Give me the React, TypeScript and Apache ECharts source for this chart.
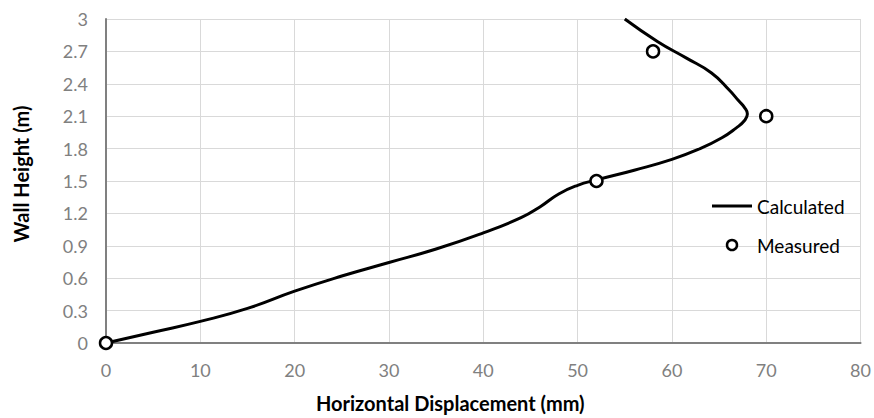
import React, { useEffect, useRef } from "react";
import * as echarts from "echarts";

const calcX = [0, 5, 10, 15, 20, 25, 30, 35, 40, 44, 46, 48, 50, 52, 56, 60, 63, 65.3, 66.8, 67.7, 68, 67.7, 67.1, 66.1, 64.2, 61.5, 58.5, 55];
const calcY = [0, 0.1, 0.2, 0.32, 0.48, 0.62, 0.745, 0.87, 1.02, 1.16, 1.26, 1.38, 1.46, 1.51, 1.6, 1.7, 1.8, 1.9, 1.99, 2.06, 2.12, 2.18, 2.24, 2.34, 2.5, 2.64, 2.79, 3.0];
const measX = [0, 52, 70, 58];
const measY = [0, 1.5, 2.1, 2.7];
const seriesNames = ["Calculated", "Measured"];
const xTitle = "Horizontal Displacement (mm)";
const yTitle = "Wall Height (m)";

const FONT = "Lato";

export default function App() {
  const ref = useRef<HTMLDivElement>(null);
  useEffect(() => {
    if (!ref.current) return;
    const chart = echarts.init(ref.current, null, { renderer: "svg" });
    const grid = "#d9d9d9";
    chart.setOption({
      animation: false,
      backgroundColor: "#ffffff",
      grid: { left: 106, right: 12, top: 19, bottom: 74 },
      legend: {
        orient: "vertical",
        left: 707,
        top: 191,
        itemWidth: 40,
        itemHeight: 10,
        itemGap: 19,
        data: [
          { name: seriesNames[0], icon: "path://M0 0H40V3H0Z", itemStyle: { color: "#000", borderWidth: 0 } },
          { name: seriesNames[1], icon: "circle", itemStyle: { color: "#fff", borderColor: "#000", borderWidth: 2.5, opacity: 1 } },
        ],
        textStyle: { fontFamily: FONT, fontSize: 19, color: "#000", lineHeight: 20 },
      },
      xAxis: [
        {
          type: "value",
          min: 0,
          max: 80,
          interval: 10,
          name: xTitle,
          nameLocation: "middle",
          nameGap: 50,
          nameTextStyle: { fontFamily: FONT, fontSize: 20, fontWeight: "bold", color: "#000", padding: [0, 66, 0, 0] },
          axisLine: { show: true, lineStyle: { color: grid, width: 1 } },
          axisTick: { show: false },
          axisLabel: { fontFamily: FONT, fontSize: 18, color: "#808080", margin: 18 },
          splitLine: { show: true, lineStyle: { color: grid, width: 1 } },
        },
        {
          type: "value",
          position: "top",
          min: 0,
          max: 80,
          interval: 10,
          axisLine: { show: true, lineStyle: { color: "#808080", width: 2 } },
          axisTick: { show: false },
          axisLabel: { show: false },
          splitLine: { show: false },
        },
      ],
      yAxis: [
        {
          type: "value",
          min: 0,
          max: 3,
          interval: 0.3,
          name: yTitle,
          nameLocation: "middle",
          nameGap: 75,
          nameTextStyle: { fontFamily: FONT, fontSize: 20, fontWeight: "bold", color: "#000", padding: [0, 0, 0, 14] },
          axisLine: { show: true, lineStyle: { color: grid, width: 1 } },
          axisTick: { show: false },
          axisLabel: {
            fontFamily: FONT,
            fontSize: 18,
            color: "#808080",
            margin: 18,
            formatter: (v: number) => String(Math.round(v * 10) / 10),
          },
          splitLine: { show: true, lineStyle: { color: grid, width: 1 } },
        },
        {
          type: "value",
          position: "right",
          min: 0,
          max: 3,
          interval: 0.3,
          axisLine: { show: true, lineStyle: { color: "#808080", width: 2 } },
          axisTick: { show: false },
          axisLabel: { show: false },
          splitLine: { show: false },
        },
      ],
      series: [
        {
          name: seriesNames[0],
          type: "line",
          data: calcX.map((x, i) => [x, calcY[i]]),
          symbol: "none",
          smooth: 0.5,
          lineStyle: { color: "#000", width: 3 },
          itemStyle: { color: "#000" },
          z: 2,
        },
        {
          name: seriesNames[1],
          type: "scatter",
          data: measX.map((x, i) => [x, measY[i]]),
          symbol: "circle",
          symbolSize: 12,
          itemStyle: { color: "#fff", borderColor: "#000", borderWidth: 2.5, opacity: 1 },
          z: 3,
        },
      ],
    });
    return () => chart.dispose();
  }, []);
  return <div ref={ref} style={{ width: 874, height: 418, position: "absolute", left: 0, top: 0 }} />;
}
